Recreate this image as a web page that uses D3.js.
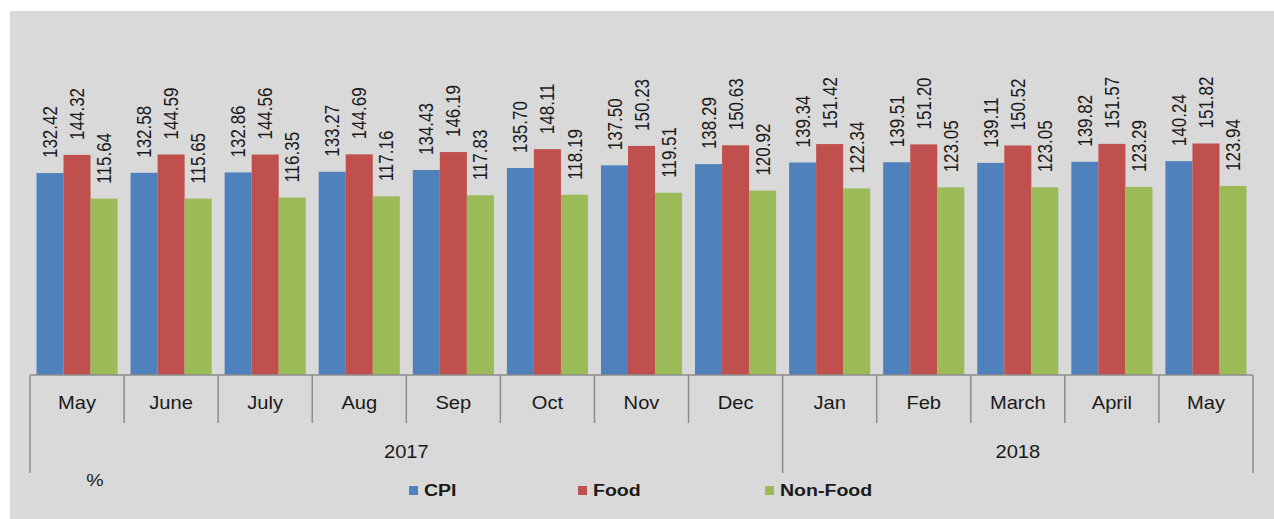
<!DOCTYPE html>
<html>
<head>
<meta charset="utf-8">
<script src="https://cdn.jsdelivr.net/npm/d3@7"></script>
<style>
  html, body { margin: 0; padding: 0; background: #ffffff; }
  svg { display: block; font-family: "Liberation Sans", Arial, sans-serif; }
</style>
</head>
<body>
<svg id="chart" width="1274" height="519"></svg>
<script>
const months = ["May","June","July","Aug","Sep","Oct","Nov","Dec","Jan","Feb","March","April","May"];
const years = [{label:"2017", start:0, end:8}, {label:"2018", start:8, end:13}];
const seriesNames = ["CPI","Food","Non-Food"];
const cpi = [132.42,132.58,132.86,133.27,134.43,135.70,137.50,138.29,139.34,139.51,139.11,139.82,140.24];
const food = [144.32,144.59,144.56,144.69,146.19,148.11,150.23,150.63,151.42,151.20,150.52,151.57,151.82];
const nonFood = [115.64,115.65,116.35,117.16,117.83,118.19,119.51,120.92,122.34,123.05,123.05,123.29,123.94];
const colors = ["#4f81bd","#c0504d","#9bbb59"];

const svg = d3.select("#chart");
const W = 1274, H = 519;
// panel background
svg.append("rect").attr("x",10).attr("y",11).attr("width",W-10).attr("height",H-11).attr("fill","#d9d9d9");

const left = 30, right = 1253, base = 375;
const idx = d3.range(months.length);
const x0 = d3.scaleBand().domain(idx).range([left,right]).paddingInner(0).paddingOuter(0);
const x1 = d3.scaleBand().domain(seriesNames).range([0,x0.bandwidth()]).paddingInner(0).paddingOuter(0.24);
const y = d3.scaleLinear().domain([0,160]).range([base, base-244]);

const values = [cpi, food, nonFood];
const data = [];
idx.forEach(i => seriesNames.forEach((s,k) => data.push({i, s, k, v: values[k][i]})));

const g = svg.append("g");
g.selectAll("rect.bar").data(data).enter().append("rect")
  .attr("class","bar")
  .attr("x", d => x0(d.i) + x1(d.s))
  .attr("width", x1.bandwidth())
  .attr("y", d => y(d.v))
  .attr("height", d => y(0) - y(d.v))
  .attr("fill", d => colors[d.k]);

g.selectAll("text.val").data(data).enter().append("text")
  .attr("class","val")
  .attr("transform", d => `translate(${x0(d.i)+x1(d.s)+x1.bandwidth()/2},${y(d.v)-15}) rotate(-90) scale(1,1.15)`)
  .attr("dy","0.36em")
  .attr("text-anchor","start")
  .attr("font-size","17px")
  .attr("fill","#1a1a1a")
  .text(d => d.v.toFixed(2));

// axis line
const axisColor = "#8c8c8c";
svg.append("line").attr("x1",left).attr("x2",right).attr("y1",base).attr("y2",base)
  .attr("stroke",axisColor).attr("stroke-width",1.5);

// month boundaries
const bounds = d3.range(months.length+1);
svg.selectAll("line.mb").data(bounds).enter().append("line")
  .attr("class","mb")
  .attr("x1", b => b < months.length ? x0(b) : right)
  .attr("x2", b => b < months.length ? x0(b) : right)
  .attr("y1", base)
  .attr("y2", b => (b===0 || b===8 || b===months.length) ? 473 : 423)
  .attr("stroke",axisColor).attr("stroke-width",1.5);

// month labels
svg.selectAll("text.m").data(idx).enter().append("text")
  .attr("class","m")
  .attr("transform", i => `translate(${x0(i)+x0.bandwidth()/2},${409}) scale(1.15,1)`)
  .attr("text-anchor","middle")
  .attr("font-size","17.5px")
  .attr("fill","#1a1a1a")
  .text(i => months[i]);

// year labels
svg.selectAll("text.yr").data(years).enter().append("text")
  .attr("class","yr")
  .attr("transform", d => {
    const a = x0(d.start);
    const b = d.end < months.length ? x0(d.end) : right;
    return `translate(${(a+b)/2},${458}) scale(1.15,1)`;
  })
  .attr("text-anchor","middle")
  .attr("font-size","17.5px")
  .attr("fill","#1a1a1a")
  .text(d => d.label);

// % label
svg.append("text").attr("transform","translate(95,486) scale(1.15,1)")
  .attr("text-anchor","middle").attr("font-size","17px").attr("fill","#1a1a1a").text("%");

// legend
const legendX = [409, 578, 765];
const lg = svg.selectAll("g.lg").data(seriesNames).enter().append("g")
  .attr("class","lg")
  .attr("transform",(d,k) => `translate(${legendX[k]},486)`);
lg.append("rect").attr("width",9).attr("height",9).attr("fill",(d,k)=>colors[k]);
lg.append("text").attr("transform","translate(15,10) scale(1.15,1)")
  .attr("font-size","17px").attr("font-weight","bold").attr("fill","#1a1a1a")
  .text(d => d);
</script>
</body>
</html>
